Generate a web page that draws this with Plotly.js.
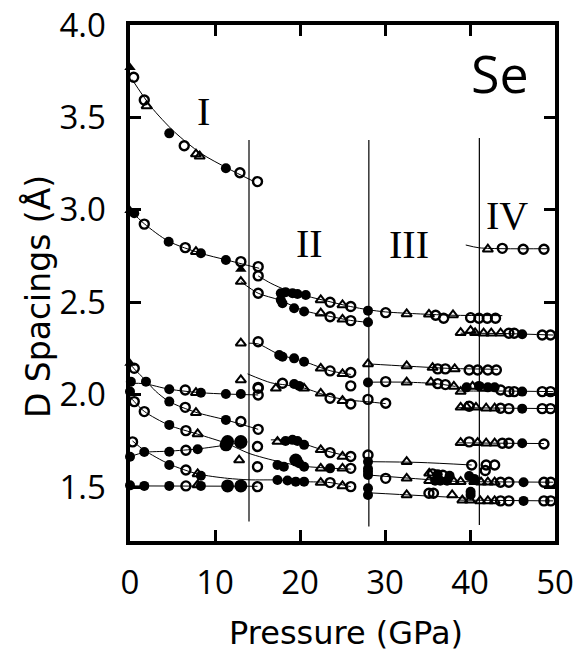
<!DOCTYPE html>
<html><head><meta charset="utf-8">
<script src="https://cdn.plot.ly/plotly-3.0.1.min.js"></script>
<style>html,body{margin:0;padding:0;background:#fff}#chart{width:574px;height:655px}</style>
</head><body><div id="chart"></div>
<script>
// Pressure (GPa), D spacing (Angstrom), marker code
// o = open circle, t = open triangle, f = filled circle, F = large filled circle, T = filled triangle
const rowI1 = [[0,3.77,'T'],[0.43,3.717,'o'],[1.68,3.594,'o'],[1.96,3.562,'t'],[4.62,3.414,'f'],[6.38,3.347,'o'],[7.76,3.302,'t'],[8.2,3.29,'t'],[11.28,3.225,'f'],[12.93,3.201,'o'],[15.0,3.153,'o']];
const fitI1 = [[0.25,3.705],[2.47,3.558],[5.2,3.423],[8.34,3.306],[11.48,3.225],[14.6,3.153]];

const rowI2 = [[0,2.996,'T'],[0.5,2.982,'f'],[1.68,2.923,'o'],[4.55,2.828,'f'],[6.5,2.796,'o'],[7.76,2.774,'t'],[8.34,2.765,'f'],[11.28,2.729,'f'],[13.04,2.72,'o'],[13.04,2.679,'T'],[15.08,2.693,'o']];
const fitI2 = [[0,3.0],[1.68,2.925],[4.55,2.83],[8.34,2.765],[11.28,2.73],[15.2,2.684]];

const rowIIa = [[15.08,2.643,'o'],[17.74,2.549,'f'],[18.3,2.555,'f'],[19.12,2.549,'f'],[19.7,2.545,'f'],[20.68,2.54,'f'],[22.44,2.513,'t'],[23.54,2.50,'o'],[25.0,2.486,'t'],[25.97,2.477,'o'],[28.0,2.455,'f'],[30.08,2.444,'o'],[32.55,2.437,'t'],[35.17,2.435,'t'],[35.96,2.43,'o'],[36.9,2.414,'o'],[38.0,2.432,'t'],[40.07,2.417,'o'],[41.05,2.414,'o'],[42.03,2.414,'o'],[43.0,2.414,'o']];
const fitIIa = [[15.08,2.643],[16.57,2.603],[18.33,2.567],[20.68,2.535],[23.54,2.503],[25.97,2.477],[28.0,2.46],[30.08,2.448],[34.2,2.437],[38,2.43],[43.8,2.428]];

const rowIIb = [[13.04,2.612,'t'],[15.08,2.549,'o'],[17.74,2.513,'f'],[17.94,2.495,'f'],[19.31,2.468,'f'],[20.48,2.45,'f'],[22.44,2.441,'t'],[23.54,2.422,'o'],[25.0,2.408,'t'],[25.97,2.401,'o'],[28.0,2.392,'f']];
const fitIIb = [[13.04,2.612],[15.08,2.549],[17.55,2.513],[20.48,2.455],[23.54,2.424],[25.97,2.402],[28,2.392]];

const rowIIc = [[13.04,2.279,'t'],[15.08,2.287,'o'],[17.55,2.215,'f'],[17.94,2.206,'f'],[19.31,2.197,'f'],[20.48,2.179,'f'],[22.44,2.143,'t'],[23.54,2.129,'o'],[25.0,2.113,'t'],[25.97,2.12,'o']];
const fitIIc = [[14.0,2.279],[15.08,2.275],[17.55,2.218],[20.48,2.18],[23.54,2.13],[25.97,2.11]];

const rowIIIa = [[28.0,2.167,'t'],[32.55,2.156,'t'],[35.6,2.147,'t'],[36.2,2.14,'o'],[37.1,2.14,'o'],[38.2,2.14,'t'],[39.9,2.134,'o'],[40.9,2.134,'o'],[42.1,2.134,'o'],[43.1,2.134,'o']];
const fitIIIa = [[28,2.167],[32.5,2.155],[38,2.142],[43.3,2.138]];

const rowIId = [[13.04,2.08,'t'],[15.08,2.04,'o'],[17.16,2.035,'t'],[17.94,2.062,'o'],[19.31,2.058,'f'],[19.9,2.048,'f'],[20.48,2.035,'t'],[22.44,2.008,'t'],[23.54,1.981,'o'],[25.0,1.968,'t'],[25.97,1.95,'o'],[25.97,2.048,'o'],[28.0,1.975,'o'],[30.08,1.954,'o']];
const fitIId = [[13.83,2.113],[16.57,2.065],[18.33,2.053],[20.48,2.036],[23.54,1.99],[25.97,1.97],[28,1.962],[30.08,1.952]];

const rowIIIb = [[28.0,2.066,'f'],[30.08,2.071,'o'],[32.55,2.068,'t'],[35.4,2.068,'t'],[36.2,2.06,'o'],[37.1,2.055,'o'],[38.1,2.045,'t']];
const fitIIIb = [[28,2.068],[32.5,2.068],[36,2.06],[38.3,2.045]];

const rowIVa = [[42.1,2.787,'t'],[43.8,2.792,'o'],[46.26,2.787,'o'],[48.7,2.787,'o']];
const fitIVa = [[39.5,2.81],[41.05,2.795],[44,2.79],[49.3,2.79]];

const rowIVb = [[38.9,2.336,'t'],[40.07,2.347,'t'],[40.6,2.335,'t'],[41.6,2.333,'t'],[42.5,2.333,'t'],[43.6,2.333,'t'],[44.57,2.333,'o'],[45.2,2.333,'o'],[46.14,2.327,'f'],[48.5,2.323,'o'],[49.47,2.323,'o']];
const fitIVb = [[38.9,2.333],[44,2.331],[49.8,2.323]];

const rowIVc = [[38.9,2.017,'t'],[39.6,2.04,'f'],[40.3,2.045,'t'],[41.05,2.048,'f'],[41.5,2.035,'t'],[42.1,2.04,'f'],[42.9,2.04,'f'],[43.6,2.026,'o'],[44.57,2.017,'o'],[45.2,2.017,'o'],[46.14,2.017,'f'],[48.5,2.017,'o'],[49.47,2.017,'o']];
const fitIVc = [[38.6,2.02],[44,2.02],[49.8,2.017]];

const rowIVd = [[38.9,1.932,'t'],[39.6,1.935,'t'],[39.9,1.938,'o'],[40.7,1.932,'t'],[41.9,1.927,'t'],[42.9,1.927,'t'],[43.6,1.927,'o'],[44.57,1.925,'o'],[46.14,1.925,'f'],[48.5,1.925,'o'],[49.47,1.925,'o']];
const fitIVd = [[38.6,1.93],[49.8,1.925]];

const rowIVe = [[38.9,1.741,'t'],[39.9,1.745,'o'],[40.9,1.741,'t'],[41.9,1.738,'t'],[42.9,1.738,'t'],[43.8,1.738,'o'],[44.57,1.738,'o'],[46.14,1.738,'f'],[48.7,1.734,'o']];
const fitIVe = [[38.6,1.74],[48.7,1.736]];

const rowIIIc = [[28.0,1.674,'o'],[28.0,1.638,'f'],[32.55,1.638,'t'],[40.2,1.62,'o'],[41.9,1.62,'o'],[42.9,1.62,'o'],[41.8,1.59,'o']];
const fitIIIc = [[28,1.638],[34,1.634],[40.2,1.62]];

const rowIIId = [[28.0,1.6,'f'],[28.0,1.584,'f'],[28.0,1.566,'f'],[30.08,1.548,'o'],[32.55,1.548,'t'],[35.2,1.575,'t'],[35.6,1.572,'o'],[36.2,1.57,'f'],[36.8,1.565,'o'],[37.6,1.562,'f'],[35.2,1.535,'t'],[35.9,1.535,'f'],[36.5,1.535,'f'],[37.3,1.535,'f'],[38.1,1.53,'t'],[38.9,1.53,'t'],[39.9,1.56,'f'],[40.5,1.545,'f']];
const fitIIId = [[28,1.566],[35.4,1.54],[38.8,1.53]];

const rowIVf = [[40.5,1.53,'t'],[41.3,1.527,'t'],[42.1,1.527,'t'],[42.9,1.527,'t'],[43.6,1.527,'o'],[44.57,1.527,'o'],[46.3,1.527,'f'],[48.7,1.527,'o'],[49.5,1.527,'o']];
const fitIVf = [[38.8,1.53],[49.8,1.527]];

const rowIIIe = [[28.0,1.494,'f'],[28.0,1.458,'f'],[32.55,1.458,'t'],[35.17,1.467,'o'],[35.7,1.467,'o'],[37.9,1.458,'t'],[40.07,1.458,'f'],[40.07,1.475,'f']];
const fitIIIe = [[28,1.47],[34,1.455],[40.1,1.44]];

const rowIVg = [[39.1,1.43,'t'],[40.0,1.43,'t'],[41.2,1.426,'t'],[42.1,1.426,'t'],[42.9,1.426,'t'],[43.6,1.426,'o'],[44.57,1.426,'o'],[46.3,1.426,'f'],[48.7,1.426,'o'],[49.5,1.426,'o']];
const fitIVg = [[38.8,1.43],[49.8,1.426]];

const rowIflat = [[0.1,2.071,'f'],[1.88,2.071,'f'],[4.62,2.03,'f'],[6.5,2.026,'o'],[7.76,2.011,'t'],[8.34,2.011,'f'],[11.28,2.004,'f'],[13.04,2.004,'f'],[15.08,1.999,'o'],[15.08,2.035,'o']];
const fitIflat = [[0,2.062],[1.68,2.06],[4.62,2.03],[8.34,2.011],[11.28,2.004],[15.08,1.999]];

const rowIa = [[0,2.17,'T'],[0.5,2.143,'o'],[4.62,1.963,'f'],[6.5,1.932,'o'],[7.76,1.903,'t'],[11.28,1.864,'f'],[13.04,1.855,'o'],[15.08,1.813,'o']];
const fitIa = [[0,2.17],[0.5,2.14],[1.8,2.08],[3,2.02],[4.62,1.963],[7.76,1.905],[11.28,1.864],[15.08,1.813]];

const rowIb = [[0,2.017,'f'],[0.5,1.963,'o'],[1.68,1.909,'o'],[4.62,1.837,'f'],[6.58,1.806,'o'],[7.96,1.788,'t'],[11.48,1.747,'F'],[13.04,1.747,'F'],[17.35,1.62,'f'],[18.1,1.611,'f'],[19.5,1.647,'F'],[19.9,1.63,'f'],[20.48,1.611,'f'],[22.44,1.602,'t'],[23.54,1.602,'f'],[25.0,1.602,'t'],[25.97,1.602,'o']];
const fitIb = [[0,1.99],[0.5,1.963],[1.68,1.91],[4.62,1.835],[7.96,1.787],[11.48,1.735],[14,1.683],[17.55,1.638],[20.48,1.613],[25.97,1.598]];

const rowIc = [[0,1.665,'f'],[1.68,1.69,'f'],[4.62,1.692,'f'],[6.58,1.70,'o'],[7.96,1.705,'f'],[11.3,1.729,'F'],[13.04,1.742,'F'],[12.84,1.647,'t'],[15.0,1.72,'o'],[15.0,1.611,'o']];
const fitIc = [[0,1.665],[1.68,1.688],[4.62,1.695],[7.96,1.707],[11.3,1.728],[13.5,1.745]];

const rowId = [[0.3,1.745,'o'],[4.62,1.62,'f'],[6.58,1.593,'o'],[7.96,1.572,'t'],[8.34,1.562,'f'],[17.35,1.539,'f'],[18.53,1.536,'f'],[19.5,1.53,'f'],[20.48,1.53,'f'],[22.44,1.525,'t'],[23.54,1.525,'o'],[25.0,1.507,'t'],[25.97,1.503,'o']];
const fitId = [[0.3,1.75],[1.68,1.70],[4.62,1.625],[7.96,1.572],[11.48,1.548],[14,1.54],[17.35,1.539],[20.48,1.53],[23.54,1.525],[25.97,1.503]];

const rowI15 = [[0,1.51,'f'],[1.68,1.507,'f'],[4.62,1.507,'f'],[6.58,1.507,'o'],[7.96,1.512,'t'],[8.34,1.507,'f'],[11.48,1.507,'F'],[13.04,1.507,'F'],[15.0,1.503,'o']];
const fitI15 = [[0,1.507],[15,1.505]];

const rowIIe = [[17.35,1.747,'t'],[18.3,1.75,'f'],[19.12,1.756,'f'],[19.7,1.75,'f'],[20.48,1.729,'f'],[22.44,1.702,'t'],[23.54,1.687,'o'],[25.0,1.666,'t'],[25.97,1.666,'o']];
const fitIIe = [[16.57,1.756],[19.12,1.752],[22.44,1.705],[25.97,1.663]];

// phase boundaries (GPa) and their vertical extent (Angstrom)
const phaseBounds = [14.0, 28.1, 41.1];
const boundTop = [3.378, 3.378, 3.389];
const boundBottom = [1.314, 1.287, 1.296];

// phase labels
const phaseNames = ['I', 'II', 'III', 'IV'];
const phaseLabelX = [8.59, 21.1, 32.8, 44.3];
const phaseLabelY = [3.53, 2.82, 2.815, 2.968];

const rows = [rowI1,rowI2,rowIIa,rowIIb,rowIIc,rowIIIa,rowIId,rowIIIb,rowIVa,rowIVb,rowIVc,rowIVd,rowIVe,rowIIIc,rowIIId,rowIVf,rowIIIe,rowIVg,rowIflat,rowIa,rowIb,rowIc,rowId,rowI15,rowIIe];
const fits = [fitI1,fitI2,fitIIa,fitIIb,fitIIc,fitIIIa,fitIId,fitIIIb,fitIVa,fitIVb,fitIVc,fitIVd,fitIVe,fitIIIc,fitIIId,fitIVf,fitIIIe,fitIVg,fitIflat,fitIa,fitIb,fitIc,fitId,fitI15,fitIIe];

const markerStyles = {
  o: {symbol:'circle-open', size:9, color:'#000', line:{width:2.4, color:'#000'}},
  t: {symbol:'triangle-up-open', size:9, color:'#000', line:{width:2, color:'#000'}},
  f: {symbol:'circle', size:10, color:'#000', line:{width:0}},
  F: {symbol:'circle', size:13, color:'#000', line:{width:0}},
  T: {symbol:'triangle-up', size:10, color:'#000', line:{width:0}}
};

const traces = [];
fits.forEach(f => {
  traces.push({type:'scatter', mode:'lines', x:f.map(p=>p[0]), y:f.map(p=>p[1]),
    line:{color:'#000', width:1, shape:'spline', smoothing:0.8}, hoverinfo:'skip', showlegend:false});
});
phaseBounds.forEach((b,i) => {
  traces.push({type:'scatter', mode:'lines', x:[b,b], y:[boundBottom[i], boundTop[i]],
    line:{color:'#000', width:1.2}, hoverinfo:'skip', showlegend:false});
});
Object.keys(markerStyles).forEach(code => {
  const xs = [], ys = [];
  rows.forEach(r => r.forEach(p => { if (p[2] === code) { xs.push(p[0]); ys.push(p[1]); } }));
  traces.push({type:'scatter', mode:'markers', x:xs, y:ys, marker:markerStyles[code], showlegend:false, cliponaxis:false});
});

const tickFont = {family:'Open Sans, sans-serif', size:33, color:'#000'};
const axisCommon = {showline:true, linewidth:4, linecolor:'#000', mirror:'ticks', ticks:'inside',
  ticklen:11, tickwidth:3, tickcolor:'#000', showgrid:false, zeroline:false, tickfont:tickFont};

const annotations = phaseNames.map((n,i) => ({x:phaseLabelX[i], y:phaseLabelY[i], xref:'x', yref:'y', text:n,
  showarrow:false, font:{family:'Liberation Serif, serif', size:40, color:'#000'}}));
annotations.push({x:43.5, y:3.743, xref:'x', yref:'y', text:'Se', showarrow:false,
  font:{family:'Open Sans, sans-serif', size:52, color:'#000'}});
annotations.push({x:0.5094, y:-0.179, xref:'paper', yref:'paper', text:'Pressure (GPa)', showarrow:false,
  xanchor:'center', yanchor:'middle', font:{family:'DejaVu Sans, sans-serif', size:32, color:'#000'}});
annotations.push({x:-0.2176, y:0.4738, xref:'paper', yref:'paper', text:'D Spacings (Å)', showarrow:false,
  textangle:-90, xanchor:'center', yanchor:'middle', font:{family:'DejaVu Sans, sans-serif', size:33, color:'#000'}});

const layout = {
  width:574, height:655,
  margin:{l:130, r:19, t:25, b:114},
  paper_bgcolor:'#fff', plot_bgcolor:'#fff',
  xaxis:Object.assign({}, axisCommon, {range:[0,50], tick0:0, dtick:10, ticklabelstandoff:9}),
  yaxis:Object.assign({}, axisCommon, {range:[1.209,4.0], tick0:1.5, dtick:0.5, tickformat:'.1f', ticksuffix:'\u2009', ticklabelstandoff:8}),
  annotations:annotations,
  showlegend:false
};

Plotly.newPlot('chart', traces, layout, {staticPlot:true, displayModeBar:false});
</script></body></html>
